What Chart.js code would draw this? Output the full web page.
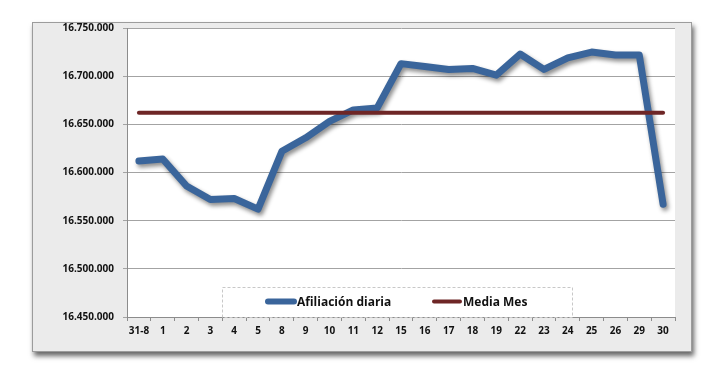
<!DOCTYPE html>
<html>
<head>
<meta charset="utf-8">
<script src="https://cdn.jsdelivr.net/npm/chart.js@4.4.0/dist/chart.umd.min.js"></script>
<style>
  html, body { margin: 0; padding: 0; background: #fff; }
  #wrap { position: relative; width: 721px; height: 385px; }
</style>
</head>
<body>
<div id="wrap"><canvas id="chart" width="721" height="385"></canvas></div>
<script>
// dias del mes (31-8 = ultimo dia del mes anterior)
const days = ['31-8', '1', '2', '3', '4', '5', '8', '9', '10', '11', '12', '15', '16',
  '17', '18', '19', '22', '23', '24', '25', '26', '29', '30'];

const afiliacionDiaria = [16612000, 16614000, 16586000, 16572000, 16573000, 16562000,
  16622000, 16636000, 16653000, 16665000, 16667000, 16713000, 16710000, 16707000,
  16708000, 16701000, 16723000, 16707000, 16719000, 16725000, 16722000, 16722000,
  16567000];

const mediaMesValue = 16662000;
const mediaMes = days.map(() => mediaMesValue);

const yMin = 16450000;
const yMax = 16750000;
const yStep = 50000;

const fmt = v => Math.round(v).toString().replace(/\B(?=(\d{3})+(?!\d))/g, '.');

const FONT = '"Open Sans", sans-serif';

// marco gris con sombra y area blanca del grafico
const framePlugin = {
  id: 'frame',
  beforeDraw(chart) {
    const ctx = chart.ctx;
    const a = chart.chartArea;
    const fx = 32, fy = 22, fw = 660, fh = 330;
    ctx.save();
    ctx.shadowColor = 'rgba(0,0,0,0.6)';
    ctx.shadowBlur = 5;
    ctx.shadowOffsetX = 2;
    ctx.shadowOffsetY = 4;
    ctx.fillStyle = '#ebebeb';
    ctx.fillRect(fx, fy, fw, fh);
    ctx.restore();
    ctx.save();
    ctx.strokeStyle = '#9c9c9c';
    ctx.lineWidth = 1;
    ctx.strokeRect(fx + 0.5, fy + 0.5, fw - 1, fh - 1);
    ctx.fillStyle = '#ffffff';
    ctx.fillRect(a.left, a.top, a.right - a.left, a.bottom - a.top);
    ctx.restore();
  },
  beforeDatasetDraw(chart, args) {
    if (args.index === 0) {
      const ctx = chart.ctx;
      ctx.save();
      ctx.shadowColor = 'rgba(0,0,0,0.45)';
      ctx.shadowBlur = 4;
      ctx.shadowOffsetX = 2;
      ctx.shadowOffsetY = 3;
    }
  },
  afterDatasetDraw(chart, args) {
    if (args.index === 0) chart.ctx.restore();
  }
};

// leyenda dentro del area del grafico
const legendPlugin = {
  id: 'innerLegend',
  afterDraw(chart) {
    const ctx = chart.ctx;
    const a = chart.chartArea;
    const bx = a.left + 95, by = a.bottom - 30, bw = 350, bh = 30;
    ctx.save();
    ctx.strokeStyle = '#c8c8c8';
    ctx.setLineDash([3, 2]);
    ctx.lineWidth = 1;
    ctx.strokeRect(bx + 0.5, by + 0.5, bw, bh);
    ctx.setLineDash([]);
    ctx.font = 'bold 12px ' + FONT;
    ctx.textBaseline = 'middle';
    ctx.fillStyle = '#111';
    const cy = by + 14.5;
    const items = [
      { x: bx + 46, ds: chart.data.datasets[0] },
      { x: bx + 212, ds: chart.data.datasets[1] }
    ];
    items.forEach(it => {
      ctx.strokeStyle = it.ds.borderColor;
      ctx.lineWidth = it.ds === chart.data.datasets[0] ? 6 : 4;
      ctx.lineCap = 'round';
      ctx.beginPath();
      ctx.moveTo(it.x, cy);
      ctx.lineTo(it.x + 26, cy);
      ctx.stroke();
      ctx.fillText(it.ds.label, it.x + 29, cy + 1);
    });
    ctx.restore();
  }
};

new Chart(document.getElementById('chart'), {
  type: 'line',
  data: {
    labels: days,
    datasets: [
      {
        label: 'Afiliación diaria',
        data: afiliacionDiaria,
        borderColor: '#3a659b',
        borderWidth: 7,
        borderCapStyle: 'round',
        borderJoinStyle: 'round',
        pointRadius: 0,
        tension: 0,
        order: 2
      },
      {
        label: 'Media Mes',
        data: mediaMes,
        borderColor: '#6e2626',
        borderWidth: 4,
        borderCapStyle: 'round',
        pointRadius: 0,
        tension: 0,
        order: 1
      }
    ]
  },
  options: {
    responsive: false,
    animation: false,
    layout: { padding: { left: 32, right: 46, top: 28, bottom: 33 } },
    plugins: {
      legend: { display: false },
      tooltip: { enabled: false }
    },
    scales: {
      x: {
        offset: true,
        grid: {
          offset: true,
          drawOnChartArea: false,
          drawTicks: true,
          tickLength: 4,
          color: '#8c8c8c'
        },
        border: { color: '#8c8c8c' },
        ticks: {
          color: '#111',
          font: { family: FONT, size: 10, weight: 'bold' },
          padding: 4,
          maxRotation: 0,
          autoSkip: false
        },
        afterFit(scale) { scale.height = 35; }
      },
      y: {
        min: yMin,
        max: yMax,
        grid: {
          color: '#a3a3a3',
          tickLength: 4,
          drawTicks: true
        },
        border: { color: '#8c8c8c' },
        ticks: {
          stepSize: yStep,
          color: '#111',
          font: { family: FONT, size: 10, weight: 'bold' },
          padding: 9,
          callback: v => fmt(v)
        },
        afterFit(scale) { scale.width = 95; }
      }
    }
  },
  plugins: [framePlugin, legendPlugin]
});
</script>
</body>
</html>
